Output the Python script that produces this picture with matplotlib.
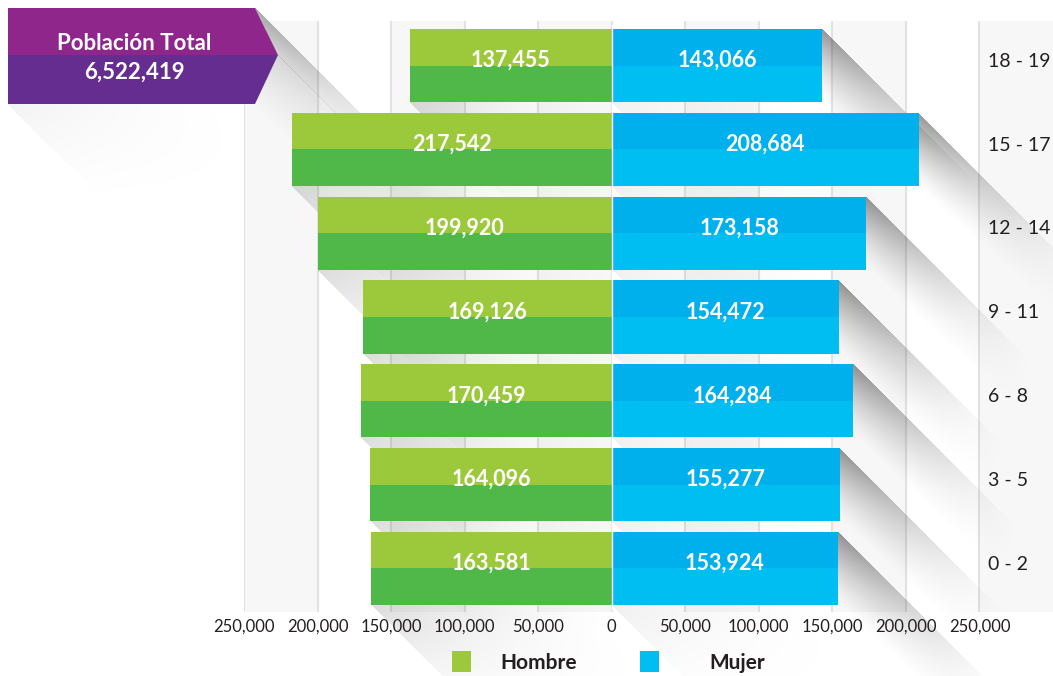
import matplotlib
matplotlib.use("Agg")
import numpy as np
import matplotlib.pyplot as plt
from matplotlib.patches import Polygon, Rectangle
from matplotlib.transforms import Affine2D

# Datos de la pirámide (de abajo hacia arriba)
grupos = ["0 - 2", "3 - 5", "6 - 8", "9 - 11", "12 - 14", "15 - 17", "18 - 19"]
hombres = [163581, 164096, 170459, 169126, 199920, 217542, 137455]
mujeres = [153924, 155277, 164284, 154472, 173158, 208684, 143066]
ticks = [-250000, -200000, -150000, -100000, -50000, 0, 50000, 100000, 150000, 200000, 250000]
total_titulo = "Población Total"
total_valor = "6,522,419"

W, H = 1053, 676
verde_claro = "#9cc93b"
verde_oscuro = "#50b848"
azul_oscuro = "#00b0ec"
azul_claro = "#00bef2"
morado_1 = "#8f268c"
morado_2 = "#652d8f"
texto = "#231f20"

plt.rcParams['font.family'] = ['Lato', 'DejaVu Sans']

fig = plt.figure(figsize=(W / 100, H / 100), dpi=100)
ax = fig.add_axes([244 / W, (H - 612) / H, (W - 244) / W, (612 - 21) / H])
XLIM = (-250000, 300000)
YLIM = (-0.519, 6.531)
ax.set_xlim(*XLIM)
ax.set_ylim(*YLIM)
for s in ax.spines.values():
    s.set_visible(False)

# transformacion en pixeles (origen arriba a la izquierda)
pix = Affine2D().scale(1, -1).translate(0, H)

# bandas de fondo y lineas verticales
for i in range(0, 11, 2):
    x0 = -250000 + i * 50000
    ax.axvspan(x0, x0 + 50000, color="#f7f7f7", lw=0, zorder=0)
for t in ticks:
    ax.axvline(t, color="#e2e2e2", lw=1.5, zorder=0.5)


def to_pix(x, y):
    dx, dy = ax.transData.transform((x, y))
    return dx, H - dy


# capa de sombras largas (45 grados) calculada en pixeles
GX, GY = np.meshgrid(np.arange(W) + 0.5, np.arange(H) + 0.5)
keep = np.ones((H, W))


def sombra(p, q, L, amax, u0=0.0, u1=1.0):
    # sombra barrida por el segmento p-q; mas oscura cerca de p y del borde
    global keep
    dx, dy = q[0] - p[0], q[1] - p[1]
    rx, ry = GX - p[0], GY - p[1]
    u = (rx - ry) / (dx - dy)
    t = rx - u * dx
    m = (u >= 0) & (u <= 1) & (t >= 0) & (t <= L)
    uu = u0 + np.clip(u, 0, 1) * (u1 - u0)
    a = amax * (1 - uu) ** 1.5 * np.clip(1 - t / L, 0, 1) ** 1.6
    keep = keep * (1 - np.where(m, a, 0))


h = 0.871
y = list(range(len(grupos)))

for i in y:
    # hombres: sombra bajo la barra desde la esquina izquierda
    x0, y0 = to_pix(-hombres[i], i + h / 2)
    x1, y1 = to_pix(0, i - h / 2)
    sombra((x0, y1), (x1, y1), 120, 0.14)
    # mujeres: sombra a la derecha desde la esquina superior
    x0, y0 = to_pix(0, i + h / 2)
    x1, y1 = to_pix(mujeres[i], i - h / 2)
    sombra((x1, y0), (x1, y1), 170, 0.42)
    sombra((x0, y1), (x1, y1), 110, 0.06)

# sombra del cartel
sombra((255, 8), (278, 55), 180, 0.34, 0.0, 0.45)
sombra((278, 55), (255, 104), 180, 0.34, 0.45, 0.9)
sombra((8, 104), (255, 104), 110, 0.05)

capa = np.zeros((H, W, 4))
capa[..., 3] = 1 - keep
ax.imshow(capa, extent=(0, W, H, 0), transform=pix, origin="upper", aspect="auto",
          interpolation="nearest", clip_on=False, zorder=1)
ax.set_xlim(*XLIM)
ax.set_ylim(*YLIM)

ax.barh(y, [-v for v in hombres], height=h, color=verde_oscuro, zorder=2)
ax.barh([v + h / 4 for v in y], [-v for v in hombres], height=h / 2, color=verde_claro, zorder=2.1)
ax.barh(y, mujeres, height=h, color=azul_claro, zorder=2)
ax.barh([v + h / 4 for v in y], mujeres, height=h / 2, color=azul_oscuro, zorder=2.1)
ax.vlines(0, -0.5, 6.5, color="white", lw=1, zorder=2.5)

for i in y:
    ax.text(-hombres[i] / 2, i + 0.06, f"{hombres[i]:,}", ha="center", va="center",
            color="white", fontsize=15.5, fontweight="bold", zorder=3)
    ax.text(mujeres[i] / 2, i + 0.06, f"{mujeres[i]:,}", ha="center", va="center",
            color="white", fontsize=15.5, fontweight="bold", zorder=3)
    ax.text(255500, i + 0.05, grupos[i], ha="left", va="center", color=texto,
            fontsize=14, zorder=3)

ax.set_yticks([])
ax.set_xticks(ticks)
ax.set_xticklabels([f"{abs(t):,}" for t in ticks], fontsize=12, color=texto)
ax.tick_params(axis="x", length=0, pad=5)

# cartel de poblacion total
ax.add_patch(Polygon([(8, 8), (255, 8), (278, 55), (8, 55)], closed=True, facecolor=morado_1,
                     edgecolor="none", transform=pix, clip_on=False, zorder=5))
ax.add_patch(Polygon([(8, 55), (278, 55), (255, 104), (8, 104)], closed=True, facecolor=morado_2,
                     edgecolor="none", transform=pix, clip_on=False, zorder=5))
ax.text(134, 44, total_titulo, ha="center", va="center", color="white", fontsize=16,
        fontweight="bold", transform=pix, clip_on=False, zorder=6)
ax.text(134, 72, total_valor, ha="center", va="center", color="white", fontsize=16,
        fontweight="bold", transform=pix, clip_on=False, zorder=6)

# leyenda
ax.add_patch(Rectangle((452, 651), 19, 21, facecolor=verde_claro, edgecolor="none",
                       transform=pix, clip_on=False, zorder=5))
ax.add_patch(Rectangle((640, 651), 19, 21, facecolor=azul_claro, edgecolor="none",
                       transform=pix, clip_on=False, zorder=5))
ax.text(500, 663, "Hombre", ha="left", va="center", color=texto, fontsize=15,
        fontweight="bold", transform=pix, clip_on=False, zorder=6)
ax.text(709, 663, "Mujer", ha="left", va="center", color=texto, fontsize=15,
        fontweight="bold", transform=pix, clip_on=False, zorder=6)

fig.savefig("out.png", dpi=100)
